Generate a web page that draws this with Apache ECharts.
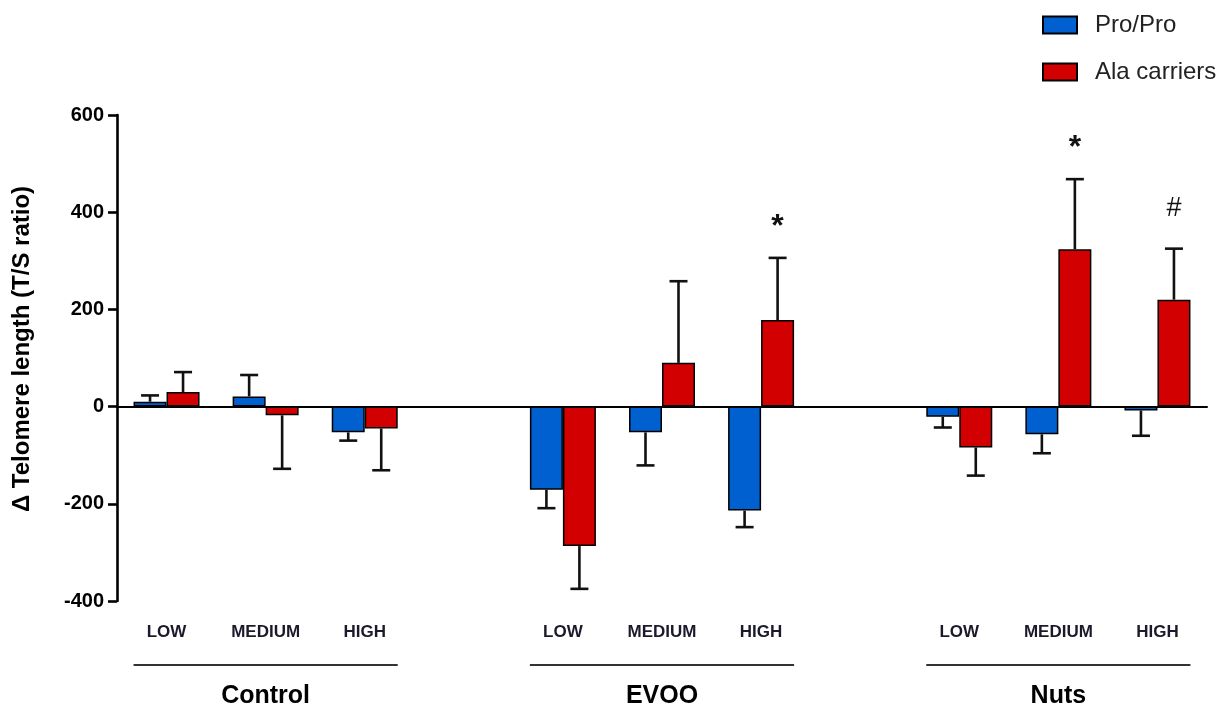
<!DOCTYPE html>
<html>
<head>
<meta charset="utf-8">
<script src="https://cdn.jsdelivr.net/npm/echarts@6/dist/echarts.min.js"></script>
<style>
html,body{margin:0;padding:0;background:#fff;}
#chart{width:1231px;height:705px;}
</style>
</head>
<body>
<div id="chart"></div>
<script>
// ---- data ----
const groupNames = ['Control', 'EVOO', 'Nuts'];
const levelNames = ['LOW', 'MEDIUM', 'HIGH'];
const yTicks = [-400, -200, 0, 200, 400, 600];
// order: Control LOW/MEDIUM/HIGH, EVOO LOW/MEDIUM/HIGH, Nuts LOW/MEDIUM/HIGH
const proMean = [10, 21, -53, -171, -53, -214, -21, -57, -8];
const proSem  = [13, 44, 17, 38, 68, 34, 22, 39, 52];
const alaMean = [30, -18, -45, -287, 90, 178, -84, 324, 220];
const alaSem  = [41, 110, 86, 88, 168, 128, 58, 144, 105];
const alaSig  = ['', '', '', '', '', '*', '', '*', '#'];
const seriesNames = ['Pro/Pro', 'Ala carriers'];

// ---- build slots (one blank slot between groups) ----
const nSlots = groupNames.length * (levelNames.length + 1) - 1;
const slotOf = i => Math.floor(i / levelNames.length) * (levelNames.length + 1) + (i % levelNames.length);
const levelLabels = new Array(nSlots).fill('');
const groupLabels = new Array(nSlots).fill('');
const cats = [];
for (let s = 0; s < nSlots; s++) cats.push('s' + s);
proMean.forEach((_, i) => { levelLabels[slotOf(i)] = levelNames[i % levelNames.length]; });
groupNames.forEach((g, gi) => { groupLabels[slotOf(gi * levelNames.length + 1)] = g; });
function toSlots(arr) {
  const out = new Array(nSlots).fill('-');
  arr.forEach((v, i) => { out[slotOf(i)] = v; });
  return out;
}

const BLUE = '#0060d0', RED = '#d20000';
const BW = 33;
const font = 'Liberation Sans, Arial, Helvetica, sans-serif';

function errSeries(mean, sem, sig, offsetSign) {
  const data = mean.map((m, i) => [slotOf(i), m, sem[i], i]);
  return {
    type: 'custom',
    xAxisIndex: 0,
    yAxisIndex: 0,
    z: 5,
    clip: false,
    silent: true,
    data: data,
    renderItem: function (params, api) {
      const x = api.value(0), m = api.value(1), e = api.value(2), idx = api.value(3);
      const dir = m >= 0 ? 1 : -1;
      const p0 = api.coord([x, m]);
      const p1 = api.coord([x, m + dir * e]);
      const cx = p0[0] + offsetSign * BW / 2;
      const cap = 9;
      const children = [
        { type: 'line', shape: { x1: cx, y1: p0[1], x2: cx, y2: p1[1] }, style: { stroke: '#111', lineWidth: 2.6 } },
        { type: 'line', shape: { x1: cx - cap, y1: p1[1], x2: cx + cap, y2: p1[1] }, style: { stroke: '#111', lineWidth: 2.6 } }
      ];
      const s = sig ? sig[idx] : '';
      if (s) {
        const isStar = s === '*';
        children.push({
          type: 'text',
          style: {
            text: s, x: cx, y: p1[1] - (isStar ? 31 : 40),
            align: 'center', verticalAlign: 'middle',
            font: (isStar ? 'bold 32px ' : '27px ') + font, fill: '#111'
          }
        });
      }
      return { type: 'group', children: children };
    }
  };
}

const chart = echarts.init(document.getElementById('chart'), null, { renderer: 'canvas' });
const option = {
  animation: false,
  backgroundColor: '#fff',
  grid: { left: 117, right: 24, top: 115, bottom: 104, containLabel: false, outerBoundsMode: 'none' },
  legend: {
    data: seriesNames,
    orient: 'vertical',
    left: 1037, top: 8,
    icon: 'rect',
    itemWidth: 34, itemHeight: 17, itemGap: 23,
    textStyle: { fontFamily: font, fontSize: 24, color: '#222', padding: [0, 0, 0, 13] }
  },
  xAxis: [
    {
      type: 'category', data: cats, boundaryGap: true,
      axisLine: { onZero: true, lineStyle: { color: '#000', width: 2 } },
      axisTick: { show: false }, axisLabel: { show: false }, splitLine: { show: false }
    },
    {
      type: 'category', data: levelLabels, position: 'bottom', boundaryGap: true,
      axisLine: { show: false, onZero: false }, axisTick: { show: false }, splitLine: { show: false },
      axisLabel: { interval: 0, margin: 23, fontFamily: font, fontWeight: 'bold', fontSize: 17, color: '#1a1a2a' }
    },
    {
      type: 'category', data: groupLabels, position: 'bottom', boundaryGap: true,
      axisLine: { show: false, onZero: false }, axisTick: { show: false }, splitLine: { show: false },
      axisLabel: { interval: 0, margin: 83, fontFamily: font, fontWeight: 'bold', fontSize: 25, color: '#000' }
    }
  ],
  yAxis: {
    type: 'value', min: yTicks[0], max: yTicks[yTicks.length - 1], interval: yTicks[1] - yTicks[0],
    name: 'Δ Telomere length (T/S ratio)',
    nameLocation: 'middle', nameGap: 83, nameRotate: 90,
    nameTextStyle: { fontFamily: font, fontWeight: 'bold', fontSize: 24, color: '#000', padding: [0, 0, 0, 18] },
    axisLine: { show: true, lineStyle: { color: '#000', width: 2.6 } },
    axisTick: { show: true, length: 9, lineStyle: { color: '#000', width: 2.6 } },
    axisLabel: { margin: 13, fontFamily: font, fontWeight: 'bold', fontSize: 20, color: '#000' },
    splitLine: { show: false }
  },
  series: [
    {
      name: seriesNames[0], type: 'bar', xAxisIndex: 0, data: toSlots(proMean),
      barWidth: BW, barGap: '0%',
      itemStyle: { color: BLUE, borderColor: '#000', borderWidth: 1.5 }
    },
    {
      name: seriesNames[1], type: 'bar', xAxisIndex: 0, data: toSlots(alaMean),
      barWidth: BW, barGap: '0%',
      itemStyle: { color: RED, borderColor: '#000', borderWidth: 1.5 }
    },
    errSeries(proMean, proSem, null, -1),
    errSeries(alaMean, alaSem, alaSig, 1)
  ]
};
chart.setOption(option);

// group underline bars, derived from axis scales
const yBase = chart.convertToPixel({ yAxisIndex: 0 }, yTicks[0]);
const gfx = groupNames.map((g, gi) => {
  const a = chart.convertToPixel({ xAxisIndex: 0 }, slotOf(gi * levelNames.length));
  const b = chart.convertToPixel({ xAxisIndex: 0 }, slotOf(gi * levelNames.length + levelNames.length - 1));
  return {
    type: 'line', silent: true,
    shape: { x1: a - BW, y1: yBase + 64, x2: b + BW, y2: yBase + 64 },
    style: { stroke: '#333', lineWidth: 2 }
  };
});
chart.setOption({ graphic: gfx });
</script>
</body>
</html>
